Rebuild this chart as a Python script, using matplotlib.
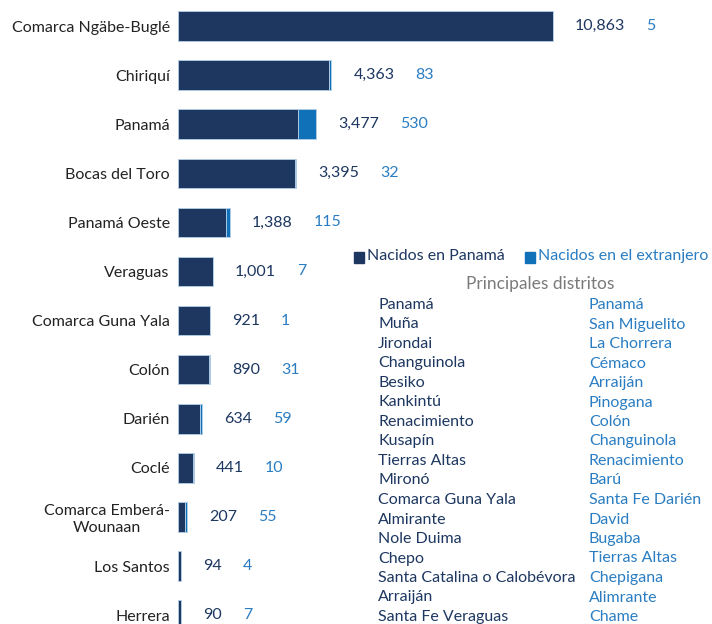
import matplotlib.pyplot as plt
import numpy as np

plt.rcParams['font.family'] = ['Lato', 'DejaVu Sans']

provincias = ['Comarca Ngäbe-Buglé', 'Chiriquí', 'Panamá', 'Bocas del Toro',
              'Panamá Oeste', 'Veraguas', 'Comarca Guna Yala', 'Colón', 'Darién',
              'Coclé', 'Comarca Emberá-\nWounaan', 'Los Santos', 'Herrera']
nacidos_panama = [10863, 4363, 3477, 3395, 1388, 1001, 921, 890, 634, 441, 207, 94, 90]
nacidos_extranjero = [5, 83, 530, 32, 115, 7, 1, 31, 59, 10, 55, 4, 7]

distritos_panama = ['Panamá', 'Muña', 'Jirondai', 'Changuinola', 'Besiko', 'Kankintú',
                    'Renacimiento', 'Kusapín', 'Tierras Altas', 'Mironó',
                    'Comarca Guna Yala', 'Almirante', 'Nole Duima', 'Chepo',
                    'Santa Catalina o Calobévora', 'Arraiján', 'Santa Fe Veraguas']
distritos_extranjero = ['Panamá', 'San Miguelito', 'La Chorrera', 'Cémaco', 'Arraiján',
                        'Pinogana', 'Colón', 'Changuinola', 'Renacimiento', 'Barú',
                        'Santa Fe Darién', 'David', 'Bugaba', 'Tierras Altas',
                        'Chepigana', 'Alimrante', 'Chame']

NAVY = '#1d3760'
BLUE = '#1070b8'
BLUE_TXT = '#2a7dc2'
EDGE = '#b5cfe8'

fig = plt.figure(figsize=(7.12, 6.24), dpi=100)
ax = fig.add_axes([0.25, 0.0, 0.75, 1.0])

y = np.arange(len(provincias))
pan = np.array(nacidos_panama)
ext = np.array(nacidos_extranjero)
b1 = ax.barh(y, pan, height=0.6, color=NAVY, edgecolor=EDGE, linewidth=0.6,
             label='Nacidos en Panamá')
b2 = ax.barh(y, ext, left=pan, height=0.6, color=BLUE, edgecolor=EDGE, linewidth=0.6,
             label='Nacidos en el extranjero')

for i in range(len(provincias)):
    t1 = ax.annotate(f'{pan[i]:,}', xy=(pan[i] + ext[i], y[i]), xytext=(16, 0),
                     textcoords='offset points', va='center', ha='left',
                     color=NAVY, fontsize=11.5)
    ax.annotate(f'{ext[i]:,}', xy=(1, 0.5), xycoords=t1, xytext=(15, 0),
                textcoords='offset points', va='center', ha='left',
                color=BLUE_TXT, fontsize=11.5)

ax.set_yticks(y)
ax.set_yticklabels(provincias, fontsize=11.5, color='#222222')
for lab in ax.get_yticklabels():
    lab.set_multialignment('center')
ax.tick_params(axis='y', length=0, pad=6)
ax.set_xticks([])
ax.set_xlim(0, 15480)
ax.set_ylim(12.18, -0.53)
for s in ax.spines.values():
    s.set_visible(False)

# leyenda
fig.patches.append(plt.Rectangle((354 / 712, 1 - 263 / 624), 10 / 712, 11 / 624,
                                 transform=fig.transFigure, color=NAVY))
fig.text(367 / 712, 1 - 256 / 624, 'Nacidos en Panamá', color=NAVY, fontsize=11.5,
         va='center', ha='left')
fig.patches.append(plt.Rectangle((525 / 712, 1 - 263 / 624), 10 / 712, 11 / 624,
                                 transform=fig.transFigure, color=BLUE))
fig.text(538 / 712, 1 - 256 / 624, 'Nacidos en el extranjero', color=BLUE_TXT,
         fontsize=11.5, va='center', ha='left')

fig.text(540 / 712, 1 - 284 / 624, 'Principales distritos', color='#7a7a7a',
         fontsize=12.5, va='center', ha='center')

for k, (a, b) in enumerate(zip(distritos_panama, distritos_extranjero)):
    yy = 1 - (305 + k * 19.5) / 624
    fig.text(378 / 712, yy, a, color=NAVY, fontsize=11.5, va='center', ha='left')
    fig.text(589 / 712, yy, b, color=BLUE_TXT, fontsize=11.5, va='center', ha='left')

fig.savefig('out.png', dpi=100)
